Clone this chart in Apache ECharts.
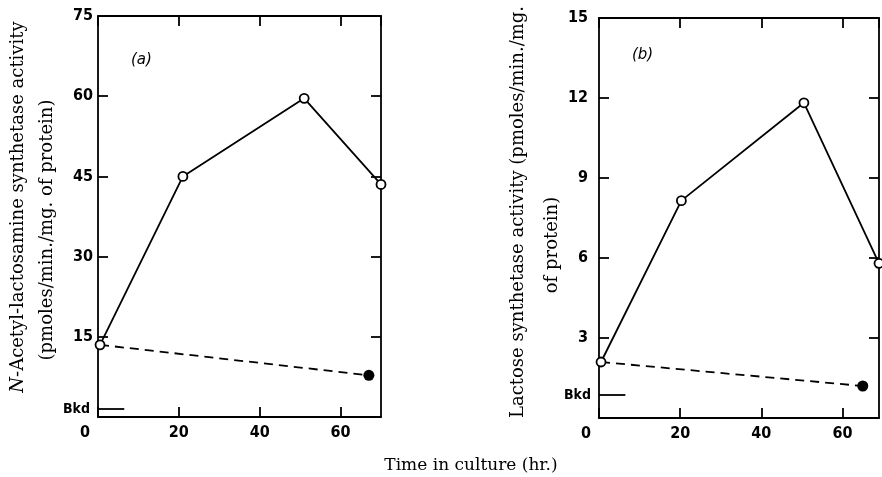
<!DOCTYPE html>
<html>
<head>
<meta charset="utf-8">
<script src="https://cdn.jsdelivr.net/npm/echarts@6/dist/echarts.min.js"></script>
<style>
  html, body { margin: 0; padding: 0; background: #fff; }
  #chart { width: 882px; height: 477px; }
</style>
</head>
<body>
<div id="chart"></div>
<script>
// ---- data ----
const xTickLabels = [0, 20, 40, 60];
const yTickLabelsA = [15, 30, 45, 60, 75];
const yTickLabelsB = [3, 6, 9, 12, 15];

// panel (a): N-acetyl-lactosamine synthetase
const timeA = [0.5, 21, 51, 70];
const activityA = [13.5, 45, 59.6, 43.5];
const culturedTimeA = [0.5, 67];
const culturedA = [13.5, 7.8];
const bkdA = 1.5;

// panel (b): lactose synthetase
const timeB = [0.5, 20.3, 50.5, 69];
const activityB = [2.1, 8.15, 11.82, 5.8];
const culturedTimeB = [0.5, 65];
const culturedB = [2.1, 1.2];
const bkdB = 0.86;

// ---- styles ----
const TICK_FONT = "'DejaVu Sans Condensed', 'DejaVu Sans', sans-serif";
const SERIF = "'DejaVu Serif', serif";
const LW = 1.8;
const TICK_SIZE = 16;

function xAxes(gridIndex, max) {
  const common = {
    type: 'value', gridIndex, min: 0, max, interval: 20,
    splitLine: { show: false },
    axisLine: { show: true, onZero: false, lineStyle: { color: '#000', width: LW } },
    axisTick: { show: true, inside: true, length: 10, lineStyle: { color: '#000', width: LW } }
  };
  return [
    Object.assign({}, common, {
      position: 'bottom',
      axisLabel: {
        show: true, margin: 8, color: '#000', fontFamily: TICK_FONT, fontWeight: 'bold', fontSize: TICK_SIZE,
        showMaxLabel: false,
        formatter: v => v === 0 ? '{z|0}' : (xTickLabels.includes(v) ? String(v) : ''),
        rich: { z: { padding: [0, 26, 0, 0], color: '#000', fontFamily: TICK_FONT, fontWeight: 'bold', fontSize: TICK_SIZE } }
      }
    }),
    Object.assign({}, common, { position: 'top', axisLabel: { show: false } })
  ];
}

function yAxes(gridIndex, max, interval, labels, margin) {
  const common = {
    type: 'value', gridIndex, min: 0, max, interval,
    splitLine: { show: false },
    axisLine: { show: true, onZero: false, lineStyle: { color: '#000', width: LW } },
    axisTick: { show: true, inside: true, length: 10, lineStyle: { color: '#000', width: LW } }
  };
  return [
    Object.assign({}, common, {
      position: 'left',
      axisLabel: {
        show: true, margin, color: '#000', fontFamily: TICK_FONT, fontWeight: 'bold', fontSize: TICK_SIZE,
        formatter: v => labels.includes(v) ? String(v) : ''
      }
    }),
    Object.assign({}, common, { position: 'right', axisLabel: { show: false } })
  ];
}

function zip(xs, ys) { return xs.map((x, i) => [x, ys[i]]); }

function panelSeries(xIdx, yIdx, t, act, ct, c, bkd) {
  const cultured = zip(ct, c).map((p, i) => i === 0 ? { value: p, symbol: 'none' } : { value: p });
  return [
    {
      type: 'line', xAxisIndex: xIdx, yAxisIndex: yIdx, clip: false,
      data: cultured,
      symbol: 'circle', symbolSize: 11,
      itemStyle: { color: '#000' },
      lineStyle: { color: '#000', width: LW, type: [9, 6] },
      markLine: {
        silent: true, symbol: ['none', 'none'], animation: false,
        lineStyle: { type: 'solid', color: '#000', width: LW },
        label: {
          show: true, position: 'start', distance: 8, formatter: 'Bkd',
          color: '#000', fontFamily: TICK_FONT, fontWeight: 'bold', fontSize: 14
        },
        data: [[{ coord: [0, bkd] }, { coord: [6.5, bkd] }]]
      }
    },
    {
      type: 'line', xAxisIndex: xIdx, yAxisIndex: yIdx, clip: false,
      data: zip(t, act),
      symbol: 'circle', symbolSize: 9,
      itemStyle: { color: '#fff', borderColor: '#000', borderWidth: LW },
      lineStyle: { color: '#000', width: LW }
    }
  ];
}

function vText(x, y, text, extra) {
  return {
    type: 'text', x, y, rotation: Math.PI / 2,
    style: Object.assign({
      text, fill: '#000', fontFamily: SERIF, fontSize: 18,
      align: 'center', verticalAlign: 'middle'
    }, extra || {})
  };
}

const option = {
  animation: false,
  backgroundColor: '#fff',
  grid: [
    { left: 98, top: 16, width: 283, height: 401 },
    { left: 599, top: 18, width: 280, height: 400 }
  ],
  xAxis: [].concat(xAxes(0, 70), xAxes(1, 69)),
  yAxis: [].concat(yAxes(0, 75, 15, yTickLabelsA, 5), yAxes(1, 15, 3, yTickLabelsB, 11)),
  title: [
    { text: '(a)', left: 126, top: 48, textStyle: { fontFamily: "'DejaVu Sans', sans-serif", fontStyle: 'italic', fontWeight: 'normal', fontSize: 15, color: '#000' } },
    { text: '(b)', left: 627, top: 43, textStyle: { fontFamily: "'DejaVu Sans', sans-serif", fontStyle: 'italic', fontWeight: 'normal', fontSize: 15, color: '#000' } }
  ],
  graphic: [
    vText(18, 207, '{i|N}-Acetyl-lactosamine synthetase activity', {
      rich: { i: { fontStyle: 'italic', fontFamily: SERIF, fontSize: 18, fill: '#000' } }
    }),
    vText(47, 230, '(pmoles/min./mg. of protein)'),
    vText(518, 212, 'Lactose synthetase activity (pmoles/min./mg.'),
    vText(552, 245, 'of protein)'),
    {
      type: 'text', x: 471, y: 466,
      style: { text: 'Time in culture (hr.)', fill: '#000', fontFamily: SERIF, fontSize: 17, align: 'center', verticalAlign: 'middle' }
    }
  ],
  series: [].concat(
    panelSeries(0, 0, timeA, activityA, culturedTimeA, culturedA, bkdA),
    panelSeries(2, 2, timeB, activityB, culturedTimeB, culturedB, bkdB)
  )
};

const chart = echarts.init(document.getElementById('chart'), null, { renderer: 'canvas' });
chart.setOption(option);
</script>
</body>
</html>
